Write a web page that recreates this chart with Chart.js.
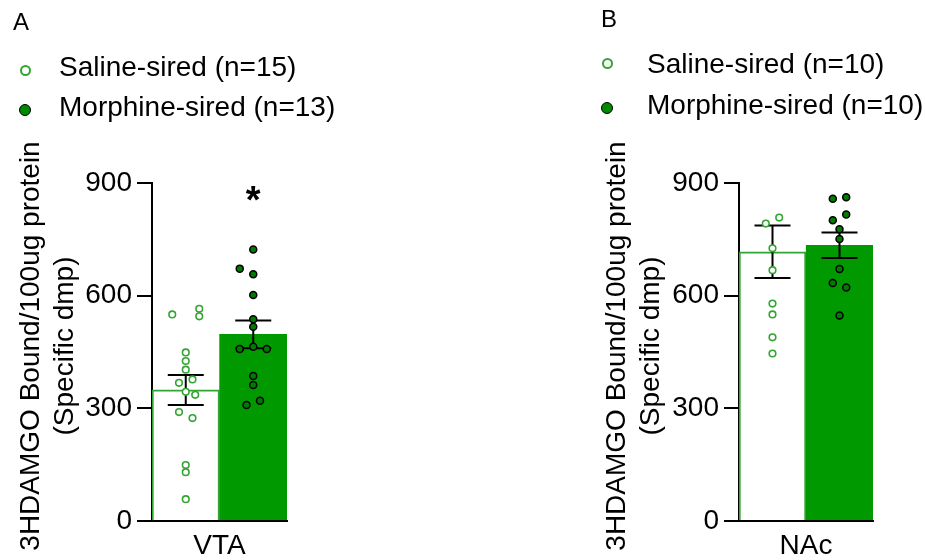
<!DOCTYPE html>
<html>
<head>
<meta charset="utf-8">
<script src="https://cdn.jsdelivr.net/npm/chart.js@4.4.0/dist/chart.umd.min.js"></script>
<style>
    html, body { margin: 0; padding: 0; background: #fff; }
    body {
        width: 925px; height: 560px; position: relative; overflow: hidden;
        font-family: "Liberation Sans", Arial, sans-serif; color: #000;
    }
    canvas { position: absolute; top: 0; }
    #chartA { left: 0; }
    #chartB { left: 590px; }
    .letter { position: absolute; font-size: 24px; line-height: 24px; }
    .legend-row { position: absolute; font-size: 28px; line-height: 28px; white-space: nowrap; }
    .dot { position: absolute; border-radius: 50%; box-sizing: border-box; }
    .dot.open { width: 11px; height: 11px; border: 2px solid #33a532; background: #fff; }
    .dot.filled { width: 12px; height: 12px; border: 1.5px solid #000; background: #008a00; }
    .ytitle {
        position: absolute; font-size: 28px; line-height: 34px; text-align: center;
        white-space: nowrap; transform: translate(-50%, -50%) rotate(-90deg);
    }
</style>
</head>
<body>
<canvas id="chartA" width="310" height="560"></canvas>
<canvas id="chartB" width="335" height="560"></canvas>

<div class="letter" style="left:13px; top:10px;">A</div>
<div class="dot open" style="left:19.5px; top:64.5px;"></div>
<div class="legend-row" style="left:59px; top:53px;">Saline-sired (n=15)</div>
<div class="dot filled" style="left:19px; top:104px;"></div>
<div class="legend-row" style="left:59px; top:93px;">Morphine-sired (n=13)</div>
<div class="ytitle" style="left:47px; top:346px;">3HDAMGO Bound/100ug protein<br>(Specific dmp)</div>

<div class="letter" style="left:601px; top:7px;">B</div>
<div class="dot open" style="left:601.5px; top:57.5px;"></div>
<div class="legend-row" style="left:647px; top:50px;">Saline-sired (n=10)</div>
<div class="dot filled" style="left:601px; top:102px;"></div>
<div class="legend-row" style="left:647px; top:91px;">Morphine-sired (n=10)</div>
<div class="ytitle" style="left:633px; top:346px;">3HDAMGO Bound/100ug protein<br>(Specific dmp)</div>

<script>
const groups = ['Saline-sired', 'Morphine-sired'];
const yTicks = [0, 300, 600, 900];

// VTA panel
const vtaMeans = [349, 497];
const vtaSem = [40, 37];
const vtaSaline = [550, 565, 545, 449, 426, 403, 368, 377, 344, 336, 290, 274, 149, 130, 58];
const vtaSalineJitter = [-0.2, 0.2, 0.2, 0, 0, 0, -0.1, 0.1, 0, 0.14, -0.1, 0.1, 0, 0, 0];
const vtaMorphine = [723, 672, 657, 602, 537, 517, 458, 464, 458, 386, 362, 309, 320];
const vtaMorphineJitter = [0, -0.2, 0, 0, 0, 0, -0.2, 0, 0.2, 0, 0, -0.1, 0.1];
const vtaStars = [{ index: 1, value: 820 }];

// NAc panel
const nacMeans = [717, 734];
const nacSem = [70, 34];
const nacSaline = [792, 808, 726, 668, 579, 550, 489, 446];
const nacSalineJitter = [-0.1, 0.1, 0, 0, 0, 0, 0, 0];
const nacMorphine = [858, 862, 816, 801, 777, 751, 671, 634, 622, 547];
const nacMorphineJitter = [-0.1, 0.1, 0.1, -0.1, 0, 0, 0, -0.1, 0.1, 0];

const barGreen = '#009900';
const salineGreen = '#33a532';
const morphineDot = '#007c00';

Chart.defaults.font.family = '"Liberation Sans", Arial, sans-serif';
Chart.defaults.color = '#000';

// mean +/- SEM whiskers and significance stars, placed with the chart's scales
const errorBarPlugin = {
    id: 'errorBars',
    afterDatasetDraw(chart, args, opts) {
        if (args.meta.type !== 'bar') return;
        const ctx = chart.ctx;
        const xs = chart.scales.xp;
        const ys = chart.scales.y;
        ctx.save();
        ctx.strokeStyle = '#000';
        ctx.lineWidth = 2;
        opts.means.forEach((m, i) => {
            const x = xs.getPixelForValue(i);
            const hi = ys.getPixelForValue(m + opts.sem[i]);
            const lo = ys.getPixelForValue(m - opts.sem[i]);
            ctx.beginPath();
            ctx.moveTo(x, hi); ctx.lineTo(x, lo);
            ctx.moveTo(x - opts.cap, hi); ctx.lineTo(x + opts.cap, hi);
            ctx.moveTo(x - opts.cap, lo); ctx.lineTo(x + opts.cap, lo);
            ctx.stroke();
        });
        ctx.restore();
    },
    afterDatasetsDraw(chart, args, opts) {
        const ctx = chart.ctx;
        const xs = chart.scales.xp;
        const ys = chart.scales.y;
        ctx.save();
        ctx.fillStyle = '#000';
        ctx.font = 'bold 38px "Liberation Sans", Arial, sans-serif';
        ctx.textAlign = 'center';
        ctx.textBaseline = 'alphabetic';
        (opts.stars || []).forEach(s => {
            ctx.fillText('*', xs.getPixelForValue(s.index), ys.getPixelForValue(s.value));
        });
        ctx.restore();
    }
};

function toPoints(center, values, jitter) {
    return values.map((v, i) => ({ x: center + jitter[i], y: v }));
}

function makePanel(canvasId, p) {
    const ctx = document.getElementById(canvasId)?.getContext('2d');
    if (!ctx) return;

    new Chart(ctx, {
        type: 'bar',
        data: {
            labels: groups,
            datasets: [
                {
                    type: 'bar',
                    data: p.means,
                    xAxisID: 'x',
                    grouped: false,
                    backgroundColor: ['#ffffff', barGreen],
                    borderColor: [salineGreen, barGreen],
                    borderWidth: 2,
                    borderSkipped: 'bottom',
                    barPercentage: 1,
                    categoryPercentage: 1,
                    order: 2
                },
                {
                    type: 'scatter',
                    data: toPoints(0, p.saline, p.salineJitter),
                    xAxisID: 'xp',
                    pointRadius: 3.3,
                    pointBorderWidth: 1.6,
                    pointBackgroundColor: '#ffffff',
                    pointBorderColor: salineGreen,
                    clip: false,
                    order: 1
                },
                {
                    type: 'scatter',
                    data: toPoints(1, p.morphine, p.morphineJitter),
                    xAxisID: 'xp',
                    pointRadius: 3.5,
                    pointBorderWidth: 1.5,
                    pointBackgroundColor: morphineDot,
                    pointBorderColor: '#000000',
                    clip: false,
                    order: 0
                }
            ]
        },
        options: {
            responsive: false,
            animation: false,
            devicePixelRatio: 1,
            layout: { padding: { left: 0, top: 183, right: p.rightPad, bottom: 0 } },
            plugins: {
                legend: { display: false },
                tooltip: { enabled: false },
                errorBars: { means: p.means, sem: p.sem, cap: 18, stars: p.stars }
            },
            scales: {
                x: {
                    type: 'category',
                    offset: true,
                    grid: { display: false },
                    border: { display: true, color: '#000', width: 2 },
                    ticks: { display: false },
                    title: {
                        display: true,
                        text: p.region,
                        color: '#000',
                        font: { size: 28, lineHeight: 1 },
                        padding: 0
                    },
                    afterFit: s => { s.height = 39; }
                },
                xp: {
                    type: 'linear',
                    axis: 'x',
                    position: 'bottom',
                    display: false,
                    offset: false,
                    min: -0.5,
                    max: 1.5
                },
                y: {
                    min: 0,
                    max: 900,
                    afterBuildTicks: s => { s.ticks = yTicks.map(v => ({ value: v })); },
                    grid: {
                        display: true,
                        drawOnChartArea: false,
                        drawTicks: true,
                        tickLength: 15,
                        color: '#000',
                        lineWidth: 2
                    },
                    border: { display: true, color: '#000', width: 2 },
                    ticks: { font: { size: 28 }, color: '#000', padding: 5 },
                    afterFit: s => { s.width = p.axisWidth; }
                }
            }
        },
        plugins: [errorBarPlugin]
    });
}

makePanel('chartA', {
    region: 'VTA',
    means: vtaMeans, sem: vtaSem,
    saline: vtaSaline, salineJitter: vtaSalineJitter,
    morphine: vtaMorphine, morphineJitter: vtaMorphineJitter,
    stars: vtaStars,
    axisWidth: 152, rightPad: 23
});

makePanel('chartB', {
    region: 'NAc',
    means: nacMeans, sem: nacSem,
    saline: nacSaline, salineJitter: nacSalineJitter,
    morphine: nacMorphine, morphineJitter: nacMorphineJitter,
    stars: [],
    axisWidth: 149, rightPad: 52
});
</script>
</body>
</html>
